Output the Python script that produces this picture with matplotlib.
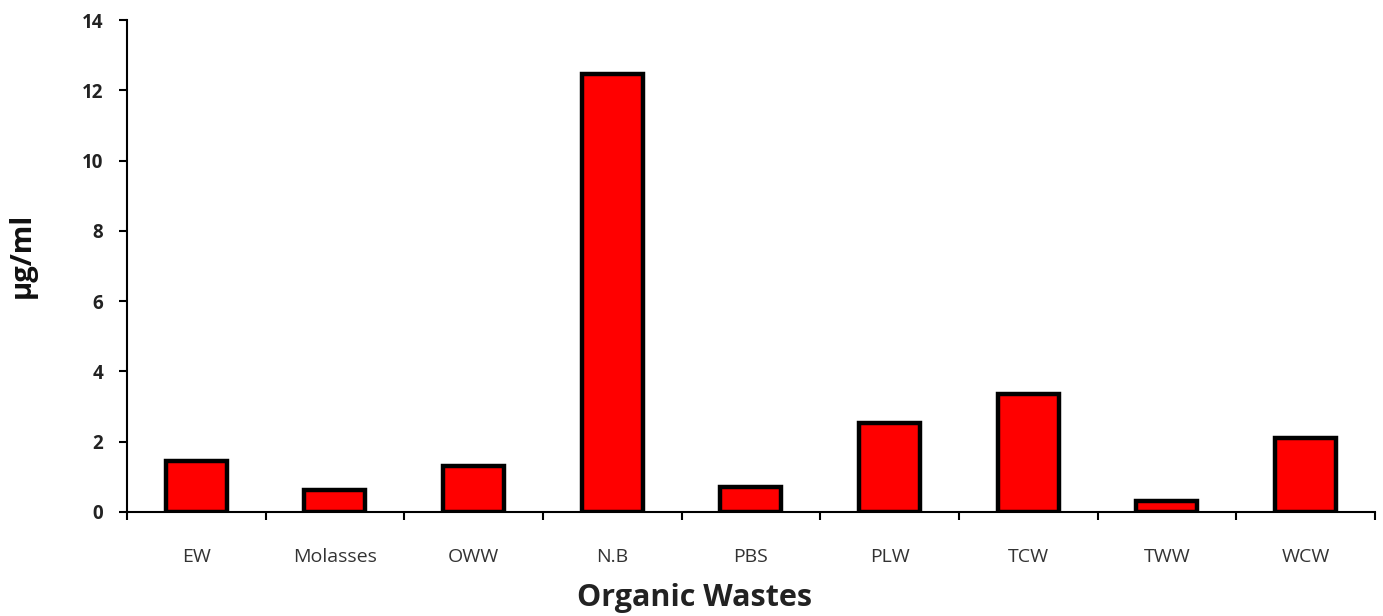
import matplotlib.pyplot as plt
import numpy as np

categories = ["EW", "Molasses", "OWW", "N.B", "PBS", "PLW", "TCW", "TWW", "WCW"]
values = [1.45, 0.62, 1.31, 12.47, 0.71, 2.53, 3.35, 0.31, 2.11]
y_ticks = [0, 2, 4, 6, 8, 10, 12, 14]

plt.rcParams['font.family'] = ['Open Sans', 'DejaVu Sans']

fig = plt.figure(figsize=(13.83, 6.16), dpi=100)
ax = fig.add_axes([0.0918, 0.169, 0.9024, 0.7985])

x = np.arange(len(categories))
ax.bar(x, values, width=0.44, color='#ff0000', edgecolor='black', linewidth=3.2, zorder=3)

ax.set_xlim(-0.5, len(categories) - 0.5)
ax.set_ylim(0, 14)
ax.set_yticks(y_ticks)
ax.set_yticklabels([str(t) for t in y_ticks], fontsize=13.5, fontweight='bold', color='#222222')

# category labels centred, tick marks on the boundaries
ax.set_xticks(x)
ax.set_xticklabels(categories, fontsize=14, color='#333333')
ax.tick_params(axis='x', which='major', length=0, pad=26)
ax.set_xticks(np.arange(len(categories) + 1) - 0.5, minor=True)
ax.tick_params(axis='x', which='minor', length=6, width=1.5, direction='out')
ax.tick_params(axis='y', length=6, width=1.5, direction='out', pad=11)

for side in ['top', 'right']:
    ax.spines[side].set_visible(False)
ax.spines['left'].set_linewidth(1.5)
ax.spines['bottom'].set_linewidth(1.5)

ax.set_xlabel("Organic Wastes", fontsize=22, fontweight='bold', color='#222222')
ax.xaxis.set_label_coords(0.455, -0.145)
ax.set_ylabel("µg/ml", fontsize=21, fontweight='bold', color='#111111')
ax.yaxis.set_label_coords(-0.072, 0.522)

fig.savefig("out.png", dpi=100)
